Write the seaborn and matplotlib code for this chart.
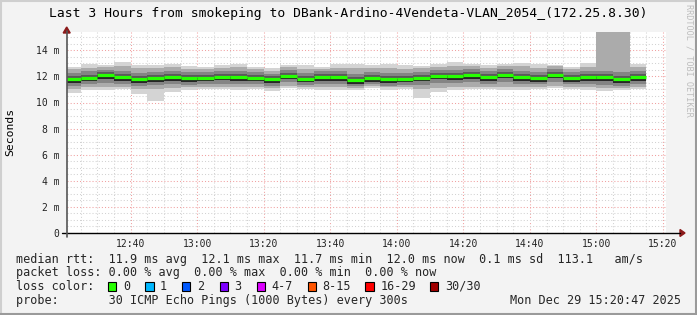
import numpy as np
import pandas as pd
import matplotlib
matplotlib.use("Agg")
import matplotlib.pyplot as plt
import seaborn as sns
from matplotlib.lines import Line2D
from matplotlib.patches import Rectangle, Polygon
from matplotlib.ticker import MultipleLocator, FixedLocator

# ---------------- data ----------------
bin_start = ["12:20", "12:25", "12:30", "12:35", "12:40", "12:45", "12:50", "12:55",
             "13:00", "13:05", "13:10", "13:15", "13:20", "13:25", "13:30", "13:35",
             "13:40", "13:45", "13:50", "13:55", "14:00", "14:05", "14:10", "14:15",
             "14:20", "14:25", "14:30", "14:35", "14:40", "14:45", "14:50", "14:55",
             "15:00", "15:05", "15:10"]
bin_minutes = 5

median_ms = [11.80, 11.90, 12.08, 11.95, 11.80, 11.88, 11.95, 11.85, 11.90, 11.98, 11.93, 11.90,
             11.78, 12.05, 11.80, 11.95, 11.93, 11.70, 11.85, 11.80, 11.80, 11.90, 12.05, 12.05,
             12.10, 11.95, 12.13, 11.95, 11.88, 12.13, 11.88, 11.93, 11.93, 11.80, 11.95]
min_ms = [10.75, 10.96, 10.96, 11.01, 10.63, 10.11, 10.83, 10.96, 11.01, 11.01, 10.96, 11.01,
          10.88, 11.08, 11.01, 10.96, 10.96, 10.96, 11.08, 10.96, 11.01, 10.32, 10.83, 10.96,
          11.01, 11.01, 10.96, 10.96, 11.01, 11.08, 11.01, 10.96, 10.88, 10.96, 11.01]
p10_ms = [11.05, 11.15, 11.20, 11.20, 11.00, 11.05, 11.10, 11.15, 11.20, 11.20, 11.15, 11.20,
          11.10, 11.30, 11.20, 11.15, 11.15, 11.10, 11.25, 11.15, 11.20, 11.00, 11.10, 11.15,
          11.20, 11.20, 11.20, 11.15, 11.20, 11.30, 11.20, 11.15, 11.10, 11.10, 11.20]
p25_ms = [11.30, 11.40, 11.50, 11.45, 11.30, 11.35, 11.40, 11.35, 11.40, 11.45, 11.40, 11.40,
          11.30, 11.55, 11.35, 11.45, 11.40, 11.25, 11.40, 11.30, 11.35, 11.35, 11.50, 11.50,
          11.55, 11.45, 11.55, 11.45, 11.40, 11.60, 11.40, 11.40, 11.35, 11.30, 11.45]
p40_ms = [11.52, 11.62, 11.80, 11.68, 11.52, 11.60, 11.66, 11.58, 11.62, 11.70, 11.65, 11.62,
          11.50, 11.78, 11.54, 11.68, 11.65, 11.44, 11.58, 11.52, 11.54, 11.62, 11.78, 11.76,
          11.82, 11.68, 11.85, 11.68, 11.60, 11.86, 11.60, 11.65, 11.64, 11.52, 11.68]
p60_ms = [12.02, 12.12, 12.30, 12.17, 12.03, 12.10, 12.18, 12.07, 12.12, 12.20, 12.15, 12.12,
          12.00, 12.27, 12.02, 12.17, 12.15, 11.93, 12.07, 12.02, 12.03, 12.12, 12.27, 12.28,
          12.32, 12.17, 12.35, 12.18, 12.10, 12.35, 12.10, 12.15, 12.16, 12.03, 12.17]
p75_ms = [12.25, 12.38, 12.52, 12.42, 12.28, 12.35, 12.42, 12.32, 12.35, 12.45, 12.40, 12.35,
          12.22, 12.50, 12.28, 12.40, 12.40, 12.20, 12.32, 12.28, 12.28, 12.35, 12.50, 12.52,
          12.55, 12.42, 12.58, 12.42, 12.35, 12.58, 12.33, 12.40, 12.42, 12.30, 12.42]
p90_ms = [12.55, 12.68, 12.72, 12.80, 12.62, 12.65, 12.70, 12.60, 12.60, 12.68, 12.70, 12.58,
          12.45, 12.72, 12.60, 12.60, 12.68, 12.62, 12.62, 12.65, 12.60, 12.62, 12.75, 12.82,
          12.78, 12.66, 12.80, 12.78, 12.66, 12.76, 12.58, 12.75, 16.00, 16.00, 12.70]
max_ms = [12.74, 12.93, 12.87, 13.13, 12.87, 12.87, 12.93, 12.80, 12.74, 12.87, 12.93, 12.74,
          12.62, 12.87, 12.87, 12.74, 12.93, 12.93, 12.87, 12.93, 12.87, 12.82, 12.93, 13.13,
          12.93, 12.87, 12.93, 13.06, 12.93, 12.87, 12.74, 13.06, 20.00, 20.00, 12.93]

x_tick_labels = ["12:40", "13:00", "13:20", "13:40", "14:00", "14:20", "14:40", "15:00", "15:20"]
y_tick_values = [0, 2, 4, 6, 8, 10, 12, 14]
y_tick_labels = ["0", "2 m", "4 m", "6 m", "8 m", "10 m", "12 m", "14 m"]
view_start = "12:20:47"
view_end = "15:20:47"

title = "Last 3 Hours from smokeping to DBank-Ardino-4Vendeta-VLAN_2054_(172.25.8.30)"
row1 = "median rtt:  11.9 ms avg  12.1 ms max  11.7 ms min  12.0 ms now  0.1 ms sd  113.1   am/s"
row2 = "packet loss: 0.00 % avg  0.00 % max  0.00 % min  0.00 % now"
row3 = "loss color:"
row4 = "probe:       30 ICMP Echo Pings (1000 Bytes) every 300s"
stamp = "Mon Dec 29 15:20:47 2025"
loss_labels = ["0", "1", "2", "3", "4-7", "8-15", "16-29", "30/30"]
loss_colors = ["#26ff00", "#00b8ff", "#0059ff", "#7e00ff", "#dd00ff", "#ff5500", "#ff0000", "#a10000"]


def to_min(s):
    parts = [float(p) for p in s.split(":")]
    return parts[0] * 60 + parts[1] + (parts[2] / 60 if len(parts) > 2 else 0)


starts = np.array([to_min(s) for s in bin_start])
edges = np.append(starts, starts[-1] + bin_minutes)

# ---------------- figure ----------------
W, H = 697, 315
DPI = 100
sns.set_style("white")
plt.rcParams["font.family"] = ["DejaVu Sans Mono", "DejaVu Sans"]
fig = plt.figure(figsize=(W / DPI, H / DPI), dpi=DPI, facecolor="#f3f3f3")


def fx(x):
    return x / W


def fy(y):
    return 1 - y / H


ax_l, ax_r, ax_t, ax_b = 66.7, 665.6, 32, 233
ax = fig.add_axes([fx(ax_l), fy(ax_b), (ax_r - ax_l) / W, (ax_b - ax_t) / H])
ax.set_facecolor("white")
ax.set_xlim(to_min(view_start), to_min(view_end))
ax.set_ylim(0, (ax_b - ax_t) / 13.05)


def stepv(v):
    v = list(v)
    return np.array(v + [v[-1]])


layers = [
    (min_ms, max_ms, "#d4d4d4"),
    (p10_ms, p90_ms, "#ababab"),
    (p25_ms, p75_ms, "#848484"),
    (p40_ms, p60_ms, "#5a5a5a"),
    (p40_ms, median_ms, "#262626"),
]
for lo, hi, c in layers:
    ax.fill_between(edges, stepv(lo), stepv(hi), step="post", color=c, lw=0, zorder=2)

# median (green) via seaborn
seg = pd.DataFrame({
    "t": np.concatenate([edges[:-1], edges[1:]]),
    "med": np.concatenate([median_ms, median_ms]),
    "bin": np.concatenate([np.arange(len(starts)), np.arange(len(starts))]),
})
sns.lineplot(data=seg, x="t", y="med", units="bin", estimator=None, color="#26ff00",
             lw=2.3, ax=ax, legend=False, zorder=4, solid_capstyle="butt")

# grids
xt = [to_min(s) for s in x_tick_labels]
ax.xaxis.set_major_locator(FixedLocator(xt))
ax.xaxis.set_minor_locator(MultipleLocator(5))
ax.yaxis.set_major_locator(FixedLocator(y_tick_values))
ax.yaxis.set_minor_locator(MultipleLocator(0.5))
ax.set_axisbelow(True)
ax.grid(which="minor", color="#d2d2d2", linestyle=(0, (1, 2)), lw=0.75, zorder=0)
ax.grid(which="major", color="#f0a0a0", linestyle=(0, (1, 2)), lw=0.75, zorder=0)
ax.set_xticks(xt)
ax.set_xticklabels(x_tick_labels)
ax.set_yticks(y_tick_values)
ax.set_yticklabels(y_tick_labels)
ax.tick_params(which="both", length=0)
ax.tick_params(axis="x", pad=4, labelsize=7, colors="#222222")
ax.tick_params(axis="y", pad=5.3, labelsize=7, colors="#222222")
ax.set_xlabel("")
ax.set_ylabel("")
for s in ax.spines.values():
    s.set_visible(False)

# axis lines with arrows
fig.add_artist(Line2D([fx(61.5), fx(680)], [fy(233), fy(233)], color="black", lw=1.0))
fig.add_artist(Line2D([fx(66.7), fx(66.7)], [fy(237), fy(31)], color="#555555", lw=1.2))
fig.add_artist(Polygon([[fx(680), fy(229.5)], [fx(685), fy(233)], [fx(680), fy(236.5)]],
                       closed=True, color="#8b1a1a", transform=fig.transFigure))
fig.add_artist(Polygon([[fx(63.2), fy(33)], [fx(66.7), fy(27)], [fx(70.2), fy(33)]],
                       closed=True, color="#8b1a1a", transform=fig.transFigure))

# frame
fig.add_artist(Line2D([fx(0.5), fx(0.5)], [fy(0), fy(315)], color="#cfcfcf", lw=1.5))
fig.add_artist(Line2D([fx(0), fx(697)], [fy(0.5), fy(0.5)], color="#cfcfcf", lw=1.5))
fig.add_artist(Line2D([fx(696.3), fx(696.3)], [fy(0), fy(315)], color="#9a9a9a", lw=1.5))
fig.add_artist(Line2D([fx(0), fx(697)], [fy(314.3), fy(314.3)], color="#9a9a9a", lw=1.5))

# texts
fig.text(fx(348.5), fy(13.5), title, ha="center", va="center", fontsize=9.4, color="black")
fig.text(fx(10), fy(132), "Seconds", rotation=90, ha="center", va="center", fontsize=8.2,
         color="black")
fig.text(fx(688.5), fy(4), "RRDTOOL / TOBI OETIKER", rotation=270, ha="center", va="top",
         fontsize=6.1, color="#bdbdbd")

fs = 8.5
fig.text(fx(16.4), fy(259.3), row1, ha="left", va="center", fontsize=fs)
fig.text(fx(16.4), fy(272.8), row2, ha="left", va="center", fontsize=fs)
fig.text(fx(16.4), fy(286.4), row3, ha="left", va="center", fontsize=fs)
fig.text(fx(16.4), fy(300.2), row4, ha="left", va="center", fontsize=fs)
fig.text(fx(681), fy(300.2), stamp, ha="right", va="center", fontsize=fs)

box_x = [108.0, 145.3, 182.2, 219.6, 256.9, 308.0, 365.3, 430.2]
lab_x = [123.0, 160.0, 196.9, 234.2, 271.6, 322.7, 380.4, 444.9]
for bx, lx, lab, col in zip(box_x, lab_x, loss_labels, loss_colors):
    fig.add_artist(Rectangle((fx(bx), fy(290.8)), 8.2 / W, 9 / H, facecolor=col,
                             edgecolor="black", lw=0.8, transform=fig.transFigure))
    fig.text(fx(lx), fy(286.4), lab, ha="left", va="center", fontsize=fs)

fig.savefig("out.png", dpi=DPI, facecolor=fig.get_facecolor())
